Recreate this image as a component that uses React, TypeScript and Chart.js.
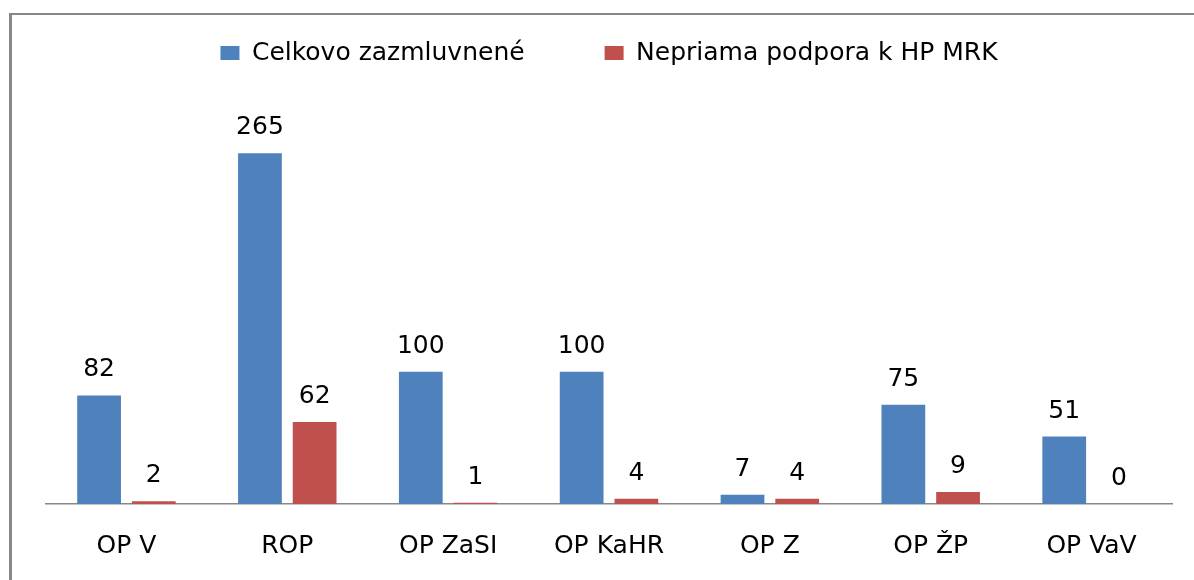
import React, { useEffect, useRef } from "react";
import { Chart, registerables } from "chart.js";

Chart.register(...registerables);

const categories = ["OP V", "ROP", "OP ZaSI", "OP KaHR", "OP Z", "OP ŽP", "OP VaV"];
const seriesNames = ["Celkovo zazmluvnené", "Nepriama podpora k HP MRK"];
const totalValues = [82, 265, 100, 100, 7, 75, 51];
const indirectValues = [2, 62, 1, 4, 4, 9, 0];
const yMax = 300;

const FONT = "'DejaVu Sans', sans-serif";

const valueLabels = {
  id: "valueLabels",
  afterDatasetsDraw(chart: any) {
    const ctx = chart.ctx;
    ctx.save();
    ctx.font = `25px ${FONT}`;
    ctx.fillStyle = "#000";
    ctx.textAlign = "center";
    ctx.textBaseline = "alphabetic";
    chart.data.datasets.forEach((ds: any, di: number) => {
      const meta = chart.getDatasetMeta(di);
      meta.data.forEach((el: any, i: number) => {
        ctx.fillText(String(ds.data[i]), el.x, el.y - 19);
      });
    });
    ctx.restore();
  },
};

export default function App() {
  const ref = useRef<HTMLCanvasElement>(null);
  useEffect(() => {
    if (!ref.current) return;
    const chart = new Chart(ref.current, {
      type: "bar",
      data: {
        labels: categories,
        datasets: [
          {
            label: seriesNames[0],
            data: totalValues,
            backgroundColor: "#4F81BD",
            borderWidth: 0,
            categoryPercentage: 0.68,
            barPercentage: 0.8,
          },
          {
            label: seriesNames[1],
            data: indirectValues,
            backgroundColor: "#C0504D",
            borderWidth: 0,
            categoryPercentage: 0.68,
            barPercentage: 0.8,
          },
        ],
      },
      options: {
        responsive: true,
        maintainAspectRatio: false,
        animation: false,
        layout: { padding: { left: 46, right: 22, top: -39.5, bottom: -8 } },
        plugins: {
          tooltip: { enabled: false },
          legend: {
            position: "top",
            labels: {
              boxWidth: 19,
              boxHeight: 14,
              padding: 80,
              color: "#000",
              font: { family: FONT, size: 25 },
            },
          },
          title: {
            display: true,
            text: "",
            weight: 500,
            font: { size: 10, lineHeight: 1 },
            padding: { top: 21.5, bottom: 0 },
          } as any,
        },
        scales: {
          x: {
            grid: { display: false, drawTicks: false },
            border: { display: true, color: "#888", width: 1.5 },
            ticks: {
              color: "#000",
              padding: 27,
              font: { family: FONT, size: 25 },
            },
          },
          y: {
            display: false,
            min: 0,
            max: yMax,
          },
        },
      },
      plugins: [valueLabels],
    });
    return () => chart.destroy();
  }, []);

  return (
    <div style={{ position: "fixed", left: 0, top: 0, width: 1194, height: 580, background: "#fff" }}>
      <canvas ref={ref} />
      <div
        style={{
          position: "absolute",
          left: 9,
          top: 13,
          right: 0,
          bottom: 0,
          borderLeft: "3px solid #878787",
          borderTop: "2px solid #878787",
          pointerEvents: "none",
        }}
      />
    </div>
  );
}
